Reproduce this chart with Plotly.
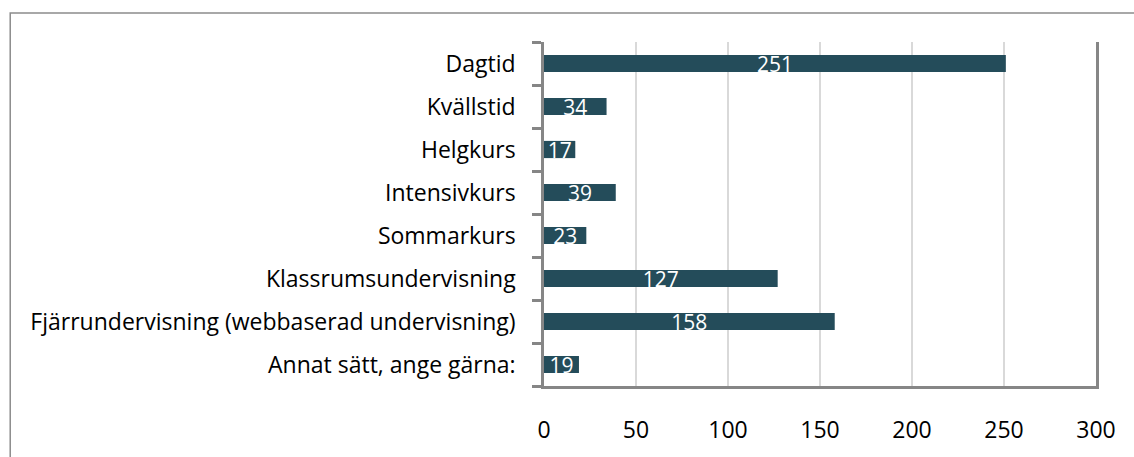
import plotly.graph_objects as go

categories = [
    "Dagtid",
    "Kvällstid",
    "Helgkurs",
    "Intensivkurs",
    "Sommarkurs",
    "Klassrumsundervisning",
    "Fjärrundervisning (webbaserad undervisning)",
    "Annat sätt, ange gärna:",
]
values = [251, 34, 17, 39, 23, 127, 158, 19]
x_ticks = [0, 50, 100, 150, 200, 250, 300]

BAR = "#244C5A"
AXIS = "#868686"
GRID = "#D9D9D9"
FONT = "Open Sans"

fig = go.Figure()
fig.add_trace(go.Bar(
    y=categories,
    x=values,
    orientation="h",
    marker=dict(color=BAR, line=dict(width=0)),
    text=[str(v) for v in values],
    textposition="inside",
    insidetextanchor="middle",
    textangle=0,
    constraintext="none",
    textfont=dict(family=FONT, size=21, color="white"),
    hoverinfo="x+y",
))

fig.update_layout(
    width=1134,
    height=457,
    margin=dict(l=544, r=38, t=42, b=60),
    paper_bgcolor="white",
    plot_bgcolor="white",
    bargap=0.6,
    showlegend=False,
    xaxis=dict(
        range=[0, 300],
        tickvals=x_ticks,
        ticktext=[str(t) for t in x_ticks],
        showgrid=True,
        gridcolor=GRID,
        gridwidth=2,
        zeroline=False,
        showline=True,
        linecolor=AXIS,
        linewidth=2.5,
        ticks="outside",
        ticklen=22,
        tickcolor="rgba(0,0,0,0)",
        tickfont=dict(family=FONT, size=23, color="black"),
    ),
    xaxis2=dict(
        overlaying="x",
        side="top",
        range=[0, 300],
        tickvals=x_ticks,
        showticklabels=False,
        showgrid=False,
        zeroline=False,
        showline=True,
        linecolor=AXIS,
        linewidth=2.5,
        ticks="outside",
        ticklen=9,
        tickwidth=2.5,
        tickcolor=AXIS,
    ),
    yaxis=dict(
        type="category",
        categoryorder="array",
        categoryarray=categories[::-1],
        showline=True,
        mirror=True,
        linecolor=AXIS,
        linewidth=2.5,
        ticks="outside",
        tickson="boundaries",
        ticklen=9,
        tickwidth=2.5,
        tickcolor=AXIS,
        showgrid=False,
        ticklabelstandoff=21,
        tickfont=dict(family=FONT, size=23, color="black"),
    ),
    shapes=[dict(
        type="path",
        xref="paper",
        yref="paper",
        path="M -0.967,-0.3 L -0.967,1.0845 L 1.2,1.0845",
        line=dict(color="#8C8C8C", width=1.5),
    )],
)

fig.write_html(
    "out.html",
    config={"displayModeBar": False},
    post_script="document.body.style.margin='0';",
)
